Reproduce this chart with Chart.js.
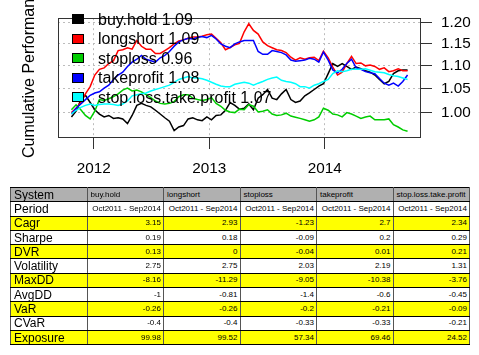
<!DOCTYPE html>
<html>
<head>
<meta charset="utf-8">
<script src="https://cdn.jsdelivr.net/npm/chart.js@4"></script>
<style>
  html, body { margin:0; padding:0; background:#fff; }
  body { width:479px; height:355px; overflow:hidden; position:relative; font-family:'Liberation Sans', Arial, Helvetica, sans-serif; }
  #cv { position:absolute; left:0; top:0; }
  #ytitle { position:absolute; left:-70.7px; top:59.5px; width:200px; height:20px; line-height:20px; font-size:16px; text-align:center; transform:rotate(-90deg); white-space:nowrap; color:#000; }
  .lg-box { position:absolute; left:72px; width:12px; height:10px; box-sizing:border-box; border:1px solid #000; }
  .lg-txt { position:absolute; left:98px; height:20px; line-height:20px; font-size:16px; white-space:nowrap; color:#000; }
  table { position:absolute; left:10px; top:187px; width:460px; border-collapse:collapse; table-layout:fixed; }
  td { height:13.3px; padding:0 2px; border-top:1px solid #000; border-bottom:1px solid #000; border-left:1px solid #555; border-right:1px solid #555; font-size:8px; line-height:10px; text-align:right; white-space:nowrap; overflow:hidden; color:#000; }
  td.lab { font-size:12px; text-align:left; padding-left:3px; }
  tr.hdr td { background:#b0b0b0; }
  tr.hdr td.col { text-align:left; padding-left:3px; }
  tr.yel td { background:#ffff00; }
</style>
</head>
<body>
<canvas id="cv" width="479" height="180"></canvas>
<div id="ytitle">Cumulative Performance</div>
<div id="legend"></div>
<table id="tbl"></table>
<script>
// ---- data ----
const dates = [
2011.807, 2011.847, 2011.888, 2011.928, 2011.969, 2012.009, 2012.049, 2012.090, 2012.130, 2012.171,
2012.211, 2012.251, 2012.292, 2012.332, 2012.373, 2012.413, 2012.453, 2012.494, 2012.534, 2012.575,
2012.615, 2012.655, 2012.696, 2012.736, 2012.777, 2012.817, 2012.857, 2012.898, 2012.938, 2012.979,
2013.019, 2013.059, 2013.100, 2013.140, 2013.180, 2013.221, 2013.261, 2013.302, 2013.342, 2013.382,
2013.423, 2013.463, 2013.504, 2013.544, 2013.584, 2013.625, 2013.665, 2013.706, 2013.746, 2013.786,
2013.827, 2013.867, 2013.908, 2013.948, 2013.988, 2014.029, 2014.069, 2014.110, 2014.150, 2014.190,
2014.231, 2014.271, 2014.312, 2014.352, 2014.392, 2014.433, 2014.473, 2014.514, 2014.554, 2014.594,
2014.635, 2014.675, 2014.716
];
const buyHold = [
0.9913, 1.0029, 1.0266, 1.0356, 1.0206, 1.0058, 0.9971, 0.9913, 0.9942, 0.9884,
0.9896, 0.9873, 0.9781, 0.9942, 1.0147, 1.0188, 1.0147, 1.0117, 1.0047, 0.9971,
0.9896, 0.9827, 0.9645, 0.9713, 0.9741, 0.9873, 0.9896, 0.9855, 0.9838, 0.9913,
0.9855, 0.9942, 0.9954, 1.0047, 1.0206, 1.0147, 1.0070, 1.0088, 1.0176, 1.0058,
1.0296, 1.0368, 1.0477, 1.0296, 1.0266, 1.0386, 1.0477, 1.0266, 1.0206, 1.0236,
1.0344, 1.0404, 1.0477, 1.0550, 1.0600, 1.0818, 1.1041, 1.0977, 1.1041, 1.0977,
1.0913, 1.0964, 1.0926, 1.0881, 1.0850, 1.0787, 1.0693, 1.0600, 1.0649, 1.0818,
1.0881, 1.0900, 1.0900
];
const longShort = [
1.0000, 1.0088, 1.0206, 1.0386, 1.0538, 1.0787, 1.0913, 1.0945, 1.1041, 1.1105,
1.1334, 1.1354, 1.1400, 1.1367, 1.1567, 1.1433, 1.1367, 1.1367, 1.1268, 1.1268,
1.1334, 1.1400, 1.1487, 1.1554, 1.1581, 1.1621, 1.1648, 1.1648, 1.1669, 1.1703,
1.1717, 1.1621, 1.1514, 1.1354, 1.1400, 1.1467, 1.1500, 1.1771, 1.1965, 1.1806,
1.1717, 1.1534, 1.1447, 1.1400, 1.1354, 1.1334, 1.1288, 1.1183, 1.1118, 1.1170,
1.1138, 1.1170, 1.1183, 1.1105, 1.1321, 1.1170, 1.0964, 1.0787, 1.0850, 1.1041,
1.1203, 1.1041, 1.1054, 1.0990, 1.1009, 1.0977, 1.0913, 1.0945, 1.0862, 1.0881,
1.0926, 1.0881, 1.0881
];
const stopLoss = [
1.0058, 1.0158, 1.0058, 0.9942, 0.9873, 1.0029, 1.0266, 1.0248, 1.0284, 1.0326,
1.0386, 1.0465, 1.0507, 1.0446, 1.0465, 1.0428, 1.0368, 1.0308, 1.0236, 1.0188,
1.0176, 1.0188, 1.0224, 1.0326, 1.0368, 1.0368, 1.0296, 1.0266, 1.0248, 1.0266,
1.0308, 1.0188, 1.0129, 1.0047, 1.0012, 1.0000, 1.0070, 1.0058, 1.0164, 1.0129,
1.0012, 1.0029, 1.0058, 0.9971, 0.9942, 0.9954, 0.9988, 0.9930, 0.9907, 0.9884,
0.9855, 0.9827, 0.9855, 0.9913, 1.0088, 1.0047, 0.9971, 0.9954, 0.9913, 1.0000,
0.9971, 0.9930, 0.9884, 0.9913, 0.9930, 0.9855, 0.9855, 0.9855, 0.9873, 0.9758,
0.9713, 0.9657, 0.9629
];
const takeProfit = [
0.9971, 1.0088, 1.0176, 1.0266, 1.0356, 1.0404, 1.0428, 1.0507, 1.0569, 1.0693,
1.0787, 1.0850, 1.0977, 1.1073, 1.1138, 1.1222, 1.1138, 1.1105, 1.1073, 1.1170,
1.1222, 1.1314, 1.1433, 1.1534, 1.1581, 1.1621, 1.1601, 1.1635, 1.1662, 1.1635,
1.1689, 1.1601, 1.1487, 1.1433, 1.1400, 1.1487, 1.1534, 1.1567, 1.1567, 1.1567,
1.1314, 1.1248, 1.1248, 1.1334, 1.1314, 1.1288, 1.1235, 1.1118, 1.1092, 1.1105,
1.1118, 1.1157, 1.1138, 1.1073, 1.1301, 1.1118, 1.0900, 1.0837, 1.0913, 1.1041,
1.1138, 1.0945, 1.0913, 1.0862, 1.0837, 1.0818, 1.0711, 1.0612, 1.0569, 1.0612,
1.0550, 1.0649, 1.0787
];
const stopLossTakeProfit = [
0.9971, 1.0047, 1.0105, 1.0147, 1.0176, 1.0147, 1.0164, 1.0176, 1.0176, 1.0164,
1.0147, 1.0176, 1.0236, 1.0344, 1.0368, 1.0386, 1.0404, 1.0446, 1.0477, 1.0507,
1.0538, 1.0569, 1.0631, 1.0693, 1.0724, 1.0755, 1.0724, 1.0724, 1.0705, 1.0674,
1.0631, 1.0588, 1.0550, 1.0538, 1.0538, 1.0588, 1.0612, 1.0631, 1.0612, 1.0569,
1.0612, 1.0649, 1.0693, 1.0724, 1.0743, 1.0674, 1.0649, 1.0631, 1.0600, 1.0538,
1.0538, 1.0507, 1.0569, 1.0600, 1.0649, 1.0693, 1.0818, 1.0881, 1.0862, 1.0881,
1.0913, 1.0913, 1.0913, 1.0926, 1.0894, 1.0862, 1.0850, 1.0837, 1.0799, 1.0774,
1.0755, 1.0724, 1.0693
];
const seriesNames = ["buy.hold", "longshort", "stoploss", "takeprofit", "stop.loss.take.profit"];
const legendLabels = ["buy.hold 1.09", "longshort 1.09", "stoploss 0.96", "takeprofit 1.08", "stop.loss.take.profit 1.07"];
const xTicks = [2012, 2013, 2014];
const yTicks = [1.00, 1.05, 1.10, 1.15, 1.20];

// table data
const tableRows = ["Period", "Cagr", "Sharpe", "DVR", "Volatility", "MaxDD", "AvgDD", "VaR", "CVaR", "Exposure"];
const colBuyHold = ["Oct2011 - Sep2014", "3.15", "0.19", "0.13", "2.75", "-8.16", "-1", "-0.26", "-0.4", "99.98"];
const colLongShort = ["Oct2011 - Sep2014", "2.93", "0.18", "0", "2.75", "-11.29", "-0.81", "-0.26", "-0.4", "99.52"];
const colStopLoss = ["Oct2011 - Sep2014", "-1.23", "-0.09", "-0.04", "2.03", "-9.05", "-1.4", "-0.2", "-0.33", "57.34"];
const colTakeProfit = ["Oct2011 - Sep2014", "2.7", "0.2", "0.01", "2.19", "-10.38", "-0.6", "-0.21", "-0.33", "69.46"];
const colStopLossTakeProfit = ["Oct2011 - Sep2014", "2.34", "0.29", "0.21", "1.31", "-3.76", "-0.45", "-0.09", "-0.21", "24.52"];
const highlightRows = ["Cagr", "DVR", "MaxDD", "VaR", "Exposure"];

// ---- styles ----
const colors = ["#000000", "#ff0000", "#00cd00", "#0000ff", "#00ffff"];
const allSeries = [buyHold, longShort, stopLoss, takeProfit, stopLossTakeProfit];

const FONT = "'Liberation Sans', Arial, Helvetica, sans-serif";
Chart.defaults.font.family = FONT;
Chart.defaults.color = "#000";

const datasets = allSeries.map((vals, i) => ({
  label: seriesNames[i],
  data: vals.map((v, j) => ({ x: dates[j], y: v })),
  borderColor: colors[i],
  backgroundColor: colors[i],
  borderWidth: 1.5,
  pointRadius: 0,
  tension: 0,
  fill: false,
  order: allSeries.length - i
}));

const xMin = dates[0], xMax = dates[dates.length - 1];
const xPad = (xMax - xMin) * 0.04;

const boxPlugin = {
  id: 'box',
  afterDraw(chart) {
    const a = chart.chartArea, ctx = chart.ctx;
    ctx.save();
    ctx.strokeStyle = '#333';
    ctx.lineWidth = 1;
    ctx.strokeRect(Math.round(a.left) + 0.5, Math.round(a.top) + 0.5, Math.round(a.right - a.left) - 1, Math.round(a.bottom - a.top) - 1);
    ctx.restore();
  }
};

const gridOpts = { color: '#bcbcbc', lineWidth: 1, tickLength: 11, tickColor: '#333', tickWidth: 1, tickBorderDash: [] };

new Chart(document.getElementById('cv'), {
  type: 'line',
  data: { datasets },
  options: {
    responsive: false,
    animation: false,
    devicePixelRatio: 1,
    layout: { padding: { left: 58, top: 1, right: 0, bottom: 0 } },
    plugins: { legend: { display: false }, tooltip: { enabled: false } },
    scales: {
      x: {
        type: 'linear',
        min: xMin - xPad,
        max: xMax + xPad,
        afterBuildTicks: s => { s.ticks = xTicks.map(v => ({ value: v })); },
        afterFit: s => { s.height = 42; },
        ticks: { autoSkip: false, maxRotation: 0, padding: 11, font: { size: 15.3 }, color: '#000', callback: v => String(v) },
        grid: gridOpts,
        border: { display: false, dash: [2, 3] }
      },
      y: {
        type: 'logarithmic',
        position: 'right',
        min: 0.952,
        max: 1.21,
        afterBuildTicks: s => { s.ticks = yTicks.map(v => ({ value: v })); },
        afterFit: s => { s.width = 58; },
        ticks: { autoSkip: false, padding: 9, font: { size: 15.3 }, color: '#000', callback: v => Number(v).toFixed(2) },
        grid: gridOpts,
        border: { display: false, dash: [2, 3] }
      }
    }
  },
  plugins: [boxPlugin]
});

// legend
const lg = document.getElementById('legend');
legendLabels.forEach((t, i) => {
  const b = document.createElement('div');
  b.className = 'lg-box';
  b.style.top = (14 + 19.6 * i) + 'px';
  b.style.background = colors[i];
  lg.appendChild(b);
  const d = document.createElement('div');
  d.className = 'lg-txt';
  d.style.top = (9.5 + 19.6 * i) + 'px';
  d.textContent = t;
  lg.appendChild(d);
});

// table
const tbl = document.getElementById('tbl');
const cols = [colBuyHold, colLongShort, colStopLoss, colTakeProfit, colStopLossTakeProfit];
let html = '<tr class="hdr"><td class="lab">System</td>' + seriesNames.map(n => '<td class="col">' + n + '</td>').join('') + '</tr>';
tableRows.forEach((r, i) => {
  const cls = highlightRows.includes(r) ? ' class="yel"' : '';
  html += '<tr' + cls + '><td class="lab">' + r + '</td>' + cols.map(c => '<td>' + c[i] + '</td>').join('') + '</tr>';
});
tbl.innerHTML = html;
</script>
</body>
</html>
